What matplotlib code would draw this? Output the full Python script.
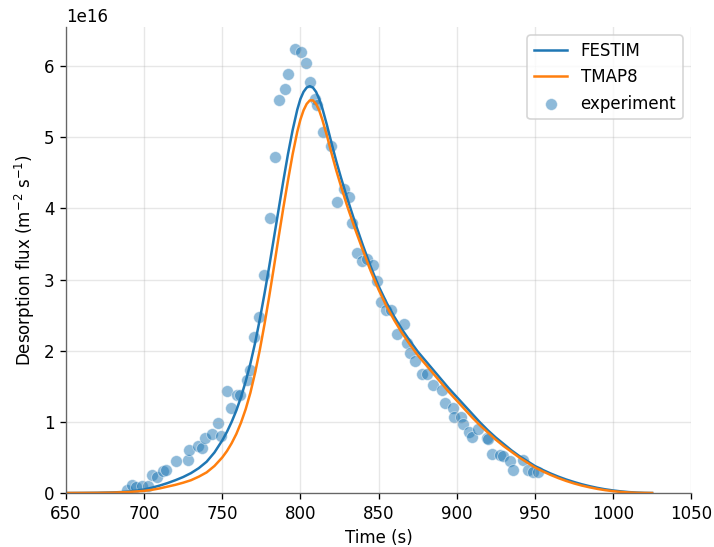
import matplotlib.pyplot as plt
import numpy as np

# experimental points (time in s, flux in 1e16 m^-2 s^-1)
exp_t = [688.8, 692.0, 694.8, 698.4, 702.7, 704.8, 708.0, 711.9, 714.0, 720.4,
         727.9, 728.9, 734.7, 736.8, 739.0, 743.2, 749.2, 747.0, 755.4, 752.8,
         759.2, 761.4, 766.0, 767.8, 770.3, 773.5, 776.7, 780.6, 783.8, 786.3,
         790.2, 792.3, 796.6, 800.2, 803.6, 806.2, 809.4, 810.8, 814.2, 819.4,
         823.6, 827.9, 831.3, 833.0, 836.5, 839.2, 842.9, 846.3, 849.3, 851.6,
         854.6, 857.8, 862.0, 866.3, 868.4, 870.2, 873.4, 877.6, 880.8, 885.0,
         890.4, 892.6, 897.5, 898.3, 902.6, 903.9, 908.0, 909.9, 913.9, 919.2,
         920.3, 922.4, 927.8, 929.9, 934.2, 935.9, 942.3, 945.9, 949.1, 952.3]
exp_f = [0.04, 0.11, 0.09, 0.10, 0.10, 0.25, 0.23, 0.31, 0.32, 0.45,
         0.47, 0.61, 0.66, 0.63, 0.78, 0.83, 0.80, 0.98, 1.19, 1.44,
         1.38, 1.38, 1.59, 1.73, 2.20, 2.48, 3.06, 3.86, 4.72, 5.53,
         5.68, 5.89, 6.24, 6.20, 6.04, 5.78, 5.54, 5.46, 5.07, 4.88,
         4.09, 4.28, 4.16, 3.79, 3.38, 3.26, 3.29, 3.21, 2.98, 2.69,
         2.57, 2.57, 2.24, 2.37, 2.11, 1.97, 1.85, 1.68, 1.68, 1.52,
         1.45, 1.26, 1.19, 1.07, 1.07, 0.97, 0.86, 0.79, 0.90, 0.77,
         0.76, 0.55, 0.54, 0.52, 0.45, 0.33, 0.46, 0.32, 0.30, 0.29]

festim_t = [650, 660, 670, 680, 685, 690, 695, 700, 705, 710, 715, 720, 725, 730,
            735, 740, 745, 750, 753, 756, 759, 762, 765, 768, 771, 774, 777, 780,
            783, 786, 789, 792, 795, 798, 800, 802, 804, 806, 808, 810, 812, 814,
            817, 820, 823, 826, 830, 835, 840, 845, 850, 855, 860, 865, 870, 875,
            880, 885, 890, 895, 900, 905, 910, 915, 920, 925, 930, 935, 940, 945,
            950, 955, 960, 965, 970, 975, 980, 985, 990, 995, 1000, 1005, 1010,
            1015, 1020, 1025]
festim_f = [0.0, 0.001, 0.003, 0.008, 0.013, 0.02, 0.033, 0.05, 0.075, 0.105, 0.14, 0.18, 0.225, 0.28,
            0.35, 0.44, 0.57, 0.74, 0.86, 1.00, 1.16, 1.35, 1.57, 1.82, 2.11, 2.44, 2.80, 3.18,
            3.58, 3.98, 4.38, 4.76, 5.10, 5.39, 5.54, 5.64, 5.70, 5.72, 5.70, 5.64, 5.54, 5.41,
            5.17, 4.91, 4.66, 4.43, 4.14, 3.80, 3.48, 3.18, 2.91, 2.68, 2.48, 2.30, 2.14, 1.99,
            1.86, 1.73, 1.60, 1.47, 1.35, 1.23, 1.11, 0.99, 0.88, 0.78, 0.69, 0.60, 0.52, 0.45,
            0.38, 0.325, 0.275, 0.23, 0.19, 0.155, 0.123, 0.096, 0.072, 0.052, 0.036, 0.023, 0.013,
            0.006, 0.002, 0.0]

tmap8_t = [650, 660, 670, 680, 690, 700, 705, 710, 715, 720, 725, 730, 735, 740,
           745, 750, 753, 756, 759, 762, 765, 768, 771, 774, 777, 780, 783, 786,
           789, 792, 795, 798, 800, 802, 804, 806, 808, 810, 812, 814, 817, 820,
           823, 826, 830, 835, 840, 845, 850, 855, 860, 865, 870, 875, 880, 885,
           890, 895, 900, 905, 910, 915, 920, 925, 930, 935, 940, 945, 950, 955,
           960, 965, 970, 975, 980, 985, 990, 995, 1000, 1005, 1010, 1015, 1020, 1025]
tmap8_f = [0.0, 0.001, 0.002, 0.005, 0.014, 0.03, 0.045, 0.065, 0.09, 0.115, 0.145, 0.18, 0.23, 0.29,
           0.38, 0.50, 0.59, 0.70, 0.83, 0.99, 1.18, 1.41, 1.69, 2.01, 2.37, 2.76, 3.17, 3.59,
           4.00, 4.39, 4.76, 5.08, 5.25, 5.38, 5.47, 5.52, 5.52, 5.47, 5.38, 5.25, 5.02, 4.77,
           4.53, 4.31, 4.03, 3.71, 3.41, 3.12, 2.86, 2.63, 2.43, 2.25, 2.09, 1.94, 1.81, 1.68,
           1.55, 1.42, 1.30, 1.18, 1.06, 0.95, 0.85, 0.75, 0.66, 0.58, 0.50, 0.43, 0.36, 0.305,
           0.255, 0.21, 0.17, 0.135, 0.105, 0.08, 0.058, 0.04, 0.026, 0.015, 0.008, 0.003, 0.001, 0.0]

scale = 1e16

fig = plt.figure(figsize=(714 / 120, 547 / 120), dpi=120)
ax = fig.add_axes([0.0924, 0.0987, 0.8756, 0.852])

ax.plot(festim_t, np.array(festim_f) * scale, label="FESTIM", color="C0", lw=1.5)
ax.plot(tmap8_t, np.array(tmap8_f) * scale, label="TMAP8", color="C1", lw=1.5)
ax.scatter(exp_t, np.array(exp_f) * scale, label="experiment", color="C0", alpha=0.5,
           s=50, edgecolors="white", linewidths=0.5)

ax.set_xlim(650, 1050)
ax.set_ylim(bottom=0)
ax.set_xlabel("Time (s)")
ax.set_ylabel(r"Desorption flux (m$^{-2}$ s$^{-1}$)")
ax.grid(alpha=0.3)
ax.spines["top"].set_visible(False)
ax.spines["right"].set_visible(False)
ax.spines["left"].set_color("0.4")
ax.spines["bottom"].set_color("0.4")
ax.legend(loc="upper right")

fig.savefig("out.png", dpi=120)
